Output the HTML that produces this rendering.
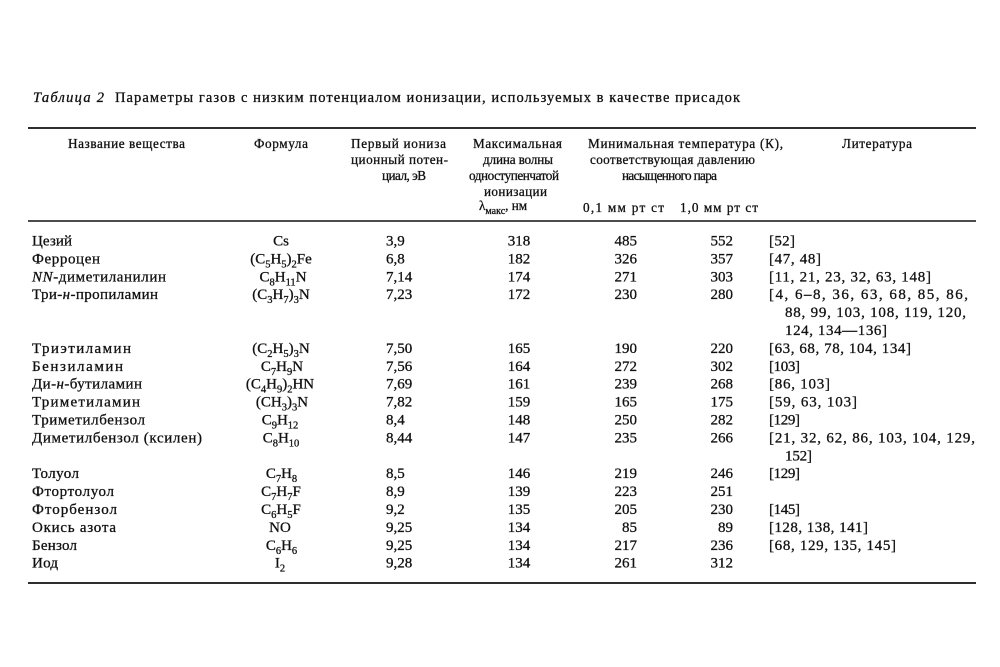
<!DOCTYPE html>
<html>
<head>
<meta charset="utf-8">
<style>
  html, body { margin: 0; padding: 0; background: #fff; }
  body { width: 1000px; height: 667px; overflow: hidden; }
  svg { display: block; }
  text { font-family: "Liberation Serif", "DejaVu Serif", serif; fill: #111; stroke: #111; stroke-width: 0.3px; }
  .t { font-size: 14.5px; }
  .h { font-size: 13.2px; }
  .b { font-size: 15px; }
  .s { font-size: 10.5px; }
  .hs { font-size: 10px; }
</style>
</head>
<body>
<svg width="1000" height="667" viewBox="0 0 1000 667" xmlns="http://www.w3.org/2000/svg">
  <rect width="1000" height="667" fill="#fff"/>

  <!-- Title -->
  <text class="t" x="33" y="102" textLength="71" font-style="italic">Таблица 2</text>
  <text class="t" x="115" y="102" textLength="625">Параметры газов с низким потенциалом ионизации, используемых в качестве присадок</text>

  <!-- Rules -->
  <line x1="28" y1="128" x2="976" y2="128" stroke="#111" stroke-width="1.8"/>
  <line x1="28" y1="221" x2="976" y2="221" stroke="#111" stroke-width="1.6"/>
  <line x1="28" y1="583" x2="976" y2="583" stroke="#111" stroke-width="1.8"/>

  <!-- Header -->
  <text class="h" x="68" y="148" textLength="117">Название вещества</text>
  <text class="h" x="254" y="148" textLength="54">Формула</text>
  <text class="h" x="351" y="148" textLength="95">Первый иониза</text>
  <text class="h" x="351" y="164" textLength="97">ционный потен-</text>
  <text class="h" x="382" y="180" textLength="44">циал, эВ</text>
  <text class="h" x="473" y="148" textLength="89">Максимальная</text>
  <text class="h" x="483" y="164" textLength="70">длина волны</text>
  <text class="h" x="469" y="180" textLength="90">одноступенчатой</text>
  <text class="h" x="484" y="196" textLength="63">ионизации</text>
  <text class="h" x="479" y="210">λ<tspan class="hs" dy="4">макс</tspan><tspan dy="-4">, нм</tspan></text>
  <text class="h" x="588" y="148" textLength="195">Минимальная температура (К),</text>
  <text class="h" x="590" y="164" textLength="165">соответствующая давлению</text>
  <text class="h" x="622" y="180" textLength="95">насыщенного пара</text>
  <text class="h" x="583" y="212" textLength="81">0,1 мм рт ст</text>
  <text class="h" x="680" y="212" textLength="78">1,0 мм рт ст</text>
  <text class="h" x="842" y="148" textLength="70">Литература</text>

  <!-- Names -->
  <g>
    <text class="b" x="32" y="245.5" textLength="40">Цезий</text>
    <text class="b" x="32" y="263.4" textLength="68">Ферроцен</text>
    <text class="b" x="32" y="281.3" textLength="134"><tspan font-style="italic">NN</tspan>-диметиланилин</text>
    <text class="b" x="32" y="299.2" textLength="126">Три-<tspan font-style="italic">н</tspan>-пропиламин</text>
    <text class="b" x="32" y="352.9" textLength="99">Триэтиламин</text>
    <text class="b" x="32" y="370.8" textLength="91">Бензиламин</text>
    <text class="b" x="32" y="388.7" textLength="110">Ди-<tspan font-style="italic">н</tspan>-бутиламин</text>
    <text class="b" x="32" y="406.6" textLength="108">Триметиламин</text>
    <text class="b" x="32" y="424.5" textLength="113">Триметилбензол</text>
    <text class="b" x="32" y="442.4" textLength="170">Диметилбензол (ксилен)</text>
    <text class="b" x="32" y="478.2" textLength="47">Толуол</text>
    <text class="b" x="32" y="496.1" textLength="82">Фтортолуол</text>
    <text class="b" x="32" y="514.0" textLength="85">Фторбензол</text>
    <text class="b" x="32" y="531.9" textLength="84">Окись азота</text>
    <text class="b" x="32" y="549.8" textLength="45">Бензол</text>
    <text class="b" x="32" y="567.7" textLength="26">Иод</text>
  </g>

  <!-- Formulas -->
  <g text-anchor="middle">
    <text class="b" x="281" y="245.5">Cs</text>
    <text class="b" x="281" y="263.4">(C<tspan class="s" dy="4">5</tspan><tspan dy="-4">H</tspan><tspan class="s" dy="4">5</tspan><tspan dy="-4">)</tspan><tspan class="s" dy="4">2</tspan><tspan dy="-4">Fe</tspan></text>
    <text class="b" x="283" y="281.3">C<tspan class="s" dy="4">8</tspan><tspan dy="-4">H</tspan><tspan class="s" dy="4">11</tspan><tspan dy="-4">N</tspan></text>
    <text class="b" x="281" y="299.2">(C<tspan class="s" dy="4">3</tspan><tspan dy="-4">H</tspan><tspan class="s" dy="4">7</tspan><tspan dy="-4">)</tspan><tspan class="s" dy="4">3</tspan><tspan dy="-4">N</tspan></text>
    <text class="b" x="281" y="352.9">(C<tspan class="s" dy="4">2</tspan><tspan dy="-4">H</tspan><tspan class="s" dy="4">5</tspan><tspan dy="-4">)</tspan><tspan class="s" dy="4">3</tspan><tspan dy="-4">N</tspan></text>
    <text class="b" x="282" y="370.8">C<tspan class="s" dy="4">7</tspan><tspan dy="-4">H</tspan><tspan class="s" dy="4">9</tspan><tspan dy="-4">N</tspan></text>
    <text class="b" x="280" y="388.7">(C<tspan class="s" dy="4">4</tspan><tspan dy="-4">H</tspan><tspan class="s" dy="4">9</tspan><tspan dy="-4">)</tspan><tspan class="s" dy="4">2</tspan><tspan dy="-4">HN</tspan></text>
    <text class="b" x="282" y="406.6">(CH<tspan class="s" dy="4">3</tspan><tspan dy="-4">)</tspan><tspan class="s" dy="4">3</tspan><tspan dy="-4">N</tspan></text>
    <text class="b" x="280" y="424.5">C<tspan class="s" dy="4">9</tspan><tspan dy="-4">H</tspan><tspan class="s" dy="4">12</tspan></text>
    <text class="b" x="281" y="442.4">C<tspan class="s" dy="4">8</tspan><tspan dy="-4">H</tspan><tspan class="s" dy="4">10</tspan></text>
    <text class="b" x="281.5" y="478.2">C<tspan class="s" dy="4">7</tspan><tspan dy="-4">H</tspan><tspan class="s" dy="4">8</tspan></text>
    <text class="b" x="281" y="496.1">C<tspan class="s" dy="4">7</tspan><tspan dy="-4">H</tspan><tspan class="s" dy="4">7</tspan><tspan dy="-4">F</tspan></text>
    <text class="b" x="281" y="514.0">C<tspan class="s" dy="4">6</tspan><tspan dy="-4">H</tspan><tspan class="s" dy="4">5</tspan><tspan dy="-4">F</tspan></text>
    <text class="b" x="280" y="531.9">NO</text>
    <text class="b" x="281.5" y="549.8">C<tspan class="s" dy="4">6</tspan><tspan dy="-4">H</tspan><tspan class="s" dy="4">6</tspan></text>
    <text class="b" x="280" y="567.7">I<tspan class="s" dy="4">2</tspan></text>
  </g>

  <!-- Ionization potential -->
  <g>
    <text class="b" x="386" y="245.5">3,9</text>
    <text class="b" x="386" y="263.4">6,8</text>
    <text class="b" x="386" y="281.3">7,14</text>
    <text class="b" x="386" y="299.2">7,23</text>
    <text class="b" x="386" y="352.9">7,50</text>
    <text class="b" x="386" y="370.8">7,56</text>
    <text class="b" x="386" y="388.7">7,69</text>
    <text class="b" x="386" y="406.6">7,82</text>
    <text class="b" x="386" y="424.5">8,4</text>
    <text class="b" x="386" y="442.4">8,44</text>
    <text class="b" x="386" y="478.2">8,5</text>
    <text class="b" x="386" y="496.1">8,9</text>
    <text class="b" x="386" y="514.0">9,2</text>
    <text class="b" x="386" y="531.9">9,25</text>
    <text class="b" x="386" y="549.8">9,25</text>
    <text class="b" x="386" y="567.7">9,28</text>
  </g>

  <!-- Lambda max -->
  <g text-anchor="middle">
    <text class="b" x="519" y="245.5">318</text>
    <text class="b" x="519" y="263.4">182</text>
    <text class="b" x="519" y="281.3">174</text>
    <text class="b" x="519" y="299.2">172</text>
    <text class="b" x="519" y="352.9">165</text>
    <text class="b" x="519" y="370.8">164</text>
    <text class="b" x="519" y="388.7">161</text>
    <text class="b" x="519" y="406.6">159</text>
    <text class="b" x="519" y="424.5">148</text>
    <text class="b" x="519" y="442.4">147</text>
    <text class="b" x="519" y="478.2">146</text>
    <text class="b" x="519" y="496.1">139</text>
    <text class="b" x="519" y="514.0">135</text>
    <text class="b" x="519" y="531.9">134</text>
    <text class="b" x="519" y="549.8">134</text>
    <text class="b" x="519" y="567.7">134</text>
  </g>

  <!-- T at 0.1 mm -->
  <g text-anchor="end">
    <text class="b" x="637" y="245.5">485</text>
    <text class="b" x="637" y="263.4">326</text>
    <text class="b" x="637" y="281.3">271</text>
    <text class="b" x="637" y="299.2">230</text>
    <text class="b" x="637" y="352.9">190</text>
    <text class="b" x="637" y="370.8">272</text>
    <text class="b" x="637" y="388.7">239</text>
    <text class="b" x="637" y="406.6">165</text>
    <text class="b" x="637" y="424.5">250</text>
    <text class="b" x="637" y="442.4">235</text>
    <text class="b" x="637" y="478.2">219</text>
    <text class="b" x="637" y="496.1">223</text>
    <text class="b" x="637" y="514.0">205</text>
    <text class="b" x="637" y="531.9">85</text>
    <text class="b" x="637" y="549.8">217</text>
    <text class="b" x="637" y="567.7">261</text>
  </g>

  <!-- T at 1.0 mm -->
  <g text-anchor="end">
    <text class="b" x="733" y="245.5">552</text>
    <text class="b" x="733" y="263.4">357</text>
    <text class="b" x="733" y="281.3">303</text>
    <text class="b" x="733" y="299.2">280</text>
    <text class="b" x="733" y="352.9">220</text>
    <text class="b" x="733" y="370.8">302</text>
    <text class="b" x="733" y="388.7">268</text>
    <text class="b" x="733" y="406.6">175</text>
    <text class="b" x="733" y="424.5">282</text>
    <text class="b" x="733" y="442.4">266</text>
    <text class="b" x="733" y="478.2">246</text>
    <text class="b" x="733" y="496.1">251</text>
    <text class="b" x="733" y="514.0">230</text>
    <text class="b" x="733" y="531.9">89</text>
    <text class="b" x="733" y="549.8">236</text>
    <text class="b" x="733" y="567.7">312</text>
  </g>

  <!-- Literature -->
  <g>
    <text class="b" x="769" y="245.5" textLength="26">[52]</text>
    <text class="b" x="769" y="263.4" textLength="52">[47, 48]</text>
    <text class="b" x="769" y="281.3" textLength="162">[11, 21, 23, 32, 63, 148]</text>
    <text class="b" x="769" y="299.2" textLength="199">[4, 6–8, 36, 63, 68, 85, 86,</text>
    <text class="b" x="785" y="317.1" textLength="181">88, 99, 103, 108, 119, 120,</text>
    <text class="b" x="785" y="335.0" textLength="102">124, 134—136]</text>
    <text class="b" x="769" y="352.9" textLength="142">[63, 68, 78, 104, 134]</text>
    <text class="b" x="769" y="370.8" textLength="31">[103]</text>
    <text class="b" x="769" y="388.7" textLength="61">[86, 103]</text>
    <text class="b" x="769" y="406.6" textLength="88">[59, 63, 103]</text>
    <text class="b" x="769" y="424.5" textLength="31">[129]</text>
    <text class="b" x="769" y="442.4" textLength="206">[21, 32, 62, 86, 103, 104, 129,</text>
    <text class="b" x="785" y="460.3" textLength="27">152]</text>
    <text class="b" x="769" y="478.2" textLength="31">[129]</text>
    <text class="b" x="769" y="514.0" textLength="31">[145]</text>
    <text class="b" x="769" y="531.9" textLength="99">[128, 138, 141]</text>
    <text class="b" x="769" y="549.8" textLength="127">[68, 129, 135, 145]</text>
  </g>
</svg>
</body>
</html>
